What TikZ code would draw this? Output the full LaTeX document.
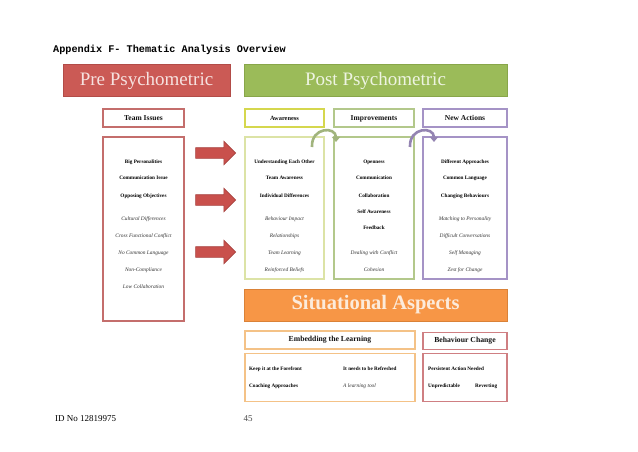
\documentclass[tikz,border=0pt]{standalone}
\usepackage{fontspec}
\setmainfont{Liberation Serif}
\newfontfamily\titlefont{Liberation Mono}
\usetikzlibrary{shapes.arrows,arrows.meta}
\definecolor{prefill}{HTML}{CB5A55}
\definecolor{predraw}{HTML}{B24C48}
\definecolor{pretext}{HTML}{F6E2E0}
\definecolor{postfill}{HTML}{9BBB59}
\definecolor{postdraw}{HTML}{88A64A}
\definecolor{posttext}{HTML}{EEF4E2}
\definecolor{sitfill}{HTML}{F79646}
\definecolor{sitdraw}{HTML}{DA8238}
\definecolor{sittext}{HTML}{FCEBDB}
\definecolor{redline}{HTML}{C46E6C}
\definecolor{yelhead}{HTML}{D5D74E}
\definecolor{yelline}{HTML}{DCE3A6}
\definecolor{grnline}{HTML}{B3C88B}
\definecolor{purline}{HTML}{A593C6}
\definecolor{orgline}{HTML}{F4C287}
\definecolor{behline}{HTML}{CF7F82}
\definecolor{arrowred}{HTML}{C9504C}
\definecolor{arrowdraw}{HTML}{A84340}
\definecolor{txt}{HTML}{111111}
\tikzset{
  bigbox/.style={draw, line width=1pt, inner sep=0pt, font=\fontsize{19}{22}\selectfont},
  framebox/.style={draw, line width=1.2pt, fill=white, inner sep=0pt},
  head/.style={font=\bfseries\fontsize{7.5}{9}\selectfont, text=txt},
  bt/.style={font=\bfseries\fontsize{5.2}{6}\selectfont, text=black, inner sep=0pt},
  it/.style={font=\itshape\fontsize{5.4}{6}\selectfont, text=black!80, inner sep=0pt},
  blockarrow/.style={single arrow, draw=arrowdraw, fill=arrowred, line width=0.6pt,
    minimum height=40pt, minimum width=23pt, inner sep=5pt,
    single arrow head extend=6.5pt, single arrow head indent=0pt, single arrow tip angle=90},
  curvearrow/.style={line width=2.6pt, -{Triangle[length=5pt,width=8pt]}}
}
\begin{document}
\begin{tikzpicture}[x=1pt,y=-1pt]
\useasboundingbox[fill=white] (0,0) rectangle (638,452);

% title
\node[anchor=west, inner sep=0pt, font=\titlefont\bfseries\fontsize{10.2}{12}\selectfont] (title) at (53,50) {Appendix F- Thematic Analysis Overview};

% main banners
\node[bigbox, fill=prefill, draw=predraw, text=pretext, minimum width=167pt, minimum height=32pt] (pre) at (146.5,81) {Pre Psychometric};
\node[bigbox, fill=postfill, draw=postdraw, text=posttext, minimum width=263pt, minimum height=32pt] (post) at (375.5,81) {Post Psychometric};
\node[bigbox, fill=sitfill, draw=sitdraw, text=sittext, minimum width=263pt, minimum height=32pt, font=\bfseries\fontsize{20.5}{24}\selectfont] (sit) at (375.5,305) {Situational Aspects};

% column headers
\node[framebox, draw=redline, minimum width=81pt, minimum height=18pt, head] (teamh) at (143.5,118) {Team Issues};
\node[framebox, draw=yelhead, minimum width=79pt, minimum height=18pt, head, font=\bfseries\fontsize{6.4}{8}\selectfont] (awh) at (284.5,118) {Awareness};
\node[framebox, draw=grnline, minimum width=80pt, minimum height=18pt, head] (imh) at (374,118) {\raisebox{0pt}[\height][0pt]{Improvements}};
\node[framebox, draw=purline, minimum width=84pt, minimum height=18pt, head] (nah) at (465,118) {New Actions};

% column bodies
\node[framebox, draw=redline, minimum width=81pt, minimum height=184pt] (teamb) at (143.5,229) {};
\node[framebox, draw=yelline, minimum width=79pt, minimum height=142pt] (awb) at (284.5,208) {};
\node[framebox, draw=grnline, minimum width=80pt, minimum height=142pt] (imb) at (374,208) {};
\node[framebox, draw=purline, minimum width=84pt, minimum height=142pt] (nab) at (465,208) {};

% team issues text
\node[bt] (t1) at (143.5,162) {Big Personalities};
\node[bt] (t2) at (143.5,178) {Communication Issue};
\node[bt] (t3) at (143.5,196) {Opposing Objectives};
\node[it] (t4) at (143.5,219) {Cultural Differences};
\node[it] (t5) at (143.5,236) {Cross Functional Conflict};
\node[it] (t6) at (143.5,253) {No Common Language};
\node[it] (t7) at (143.5,270) {Non-Compliance};
\node[it] (t8) at (143.5,287) {Low Collaboration};

% awareness text
\node[bt] (a1) at (284.5,162) {Understanding Each Other};
\node[bt] (a2) at (284.5,178) {Team Awareness};
\node[bt] (a3) at (284.5,196) {Individual Differences};
\node[it] (a4) at (284.5,219) {Behaviour Impact};
\node[it] (a5) at (284.5,236) {Relationships};
\node[it] (a6) at (284.5,253) {Team Learning};
\node[it] (a7) at (284.5,270) {Reinforced Beliefs};

% improvements text
\node[bt] (i1) at (374,162) {Openness};
\node[bt] (i2) at (374,178) {Communication};
\node[bt] (i3) at (374,196) {Collaboration};
\node[bt] (i4) at (374,212) {Self Awareness};
\node[bt] (i5) at (374,228) {Feedback};
\node[it] (i6) at (374,253) {Dealing with Conflict};
\node[it] (i7) at (374,270) {Cohesion};

% new actions text
\node[bt] (n1) at (465,162) {Different Approaches};
\node[bt] (n2) at (465,178) {Common Language};
\node[bt] (n3) at (465,196) {Changing Behaviours};
\node[it] (n4) at (465,219) {Matching to Personality};
\node[it] (n5) at (465,236) {Difficult Conversations};
\node[it] (n6) at (465,253) {Self Managing};
\node[it] (n7) at (465,270) {Zest for Change};

% block arrows
\node[blockarrow] (ar1) at (213,153) {};
\node[blockarrow] (ar2) at (213,200) {};
\node[blockarrow] (ar3) at (213,252) {};

% curved arrows between columns
\coordinate (c1s) at (312,147);
\coordinate (c1e) at (336,142);
\coordinate (c2s) at (410,147);
\coordinate (c2e) at (434,142);
\draw[curvearrow, draw=grnline!90!black] (c1s) .. controls (311,127) and (336,126) .. (c1e);
\draw[curvearrow, draw=purline!90!black] (c2s) .. controls (409,127) and (434,126) .. (c2e);

% situational section
\node[framebox, draw=orgline, minimum width=170pt, minimum height=18pt, head, font=\bfseries\fontsize{7.7}{9}\selectfont] (emh) at (330,340) {Embedding the Learning};
\node[framebox, draw=behline, minimum width=84pt, minimum height=17pt, head, font=\bfseries\fontsize{7.7}{9}\selectfont] (beh) at (465,341) {Behaviour Change};
\node[framebox, draw=orgline, minimum width=170pt, minimum height=48pt] (emb) at (330,377.5) {};
\node[framebox, draw=behline, minimum width=84pt, minimum height=48pt] (beb) at (465,377.5) {};

\node[bt, anchor=west] (e1) at (249,369) {Keep it at the Forefront};
\node[bt, anchor=west] (e2) at (249,386) {Coaching Approaches};
\node[bt, anchor=west] (e3) at (343,369) {It needs to be Refreshed};
\node[it, anchor=west] (e4) at (343,386) {A learning tool};
\node[bt, anchor=west] (b1) at (428,369) {Persistent Action Needed};
\node[bt, anchor=west] (b2) at (428,386) {Unpredictable};
\node[bt, anchor=west] (b3) at (475,386) {Reverting};

% footer
\node[anchor=west, inner sep=0pt, font=\fontsize{9}{10}\selectfont] (idno) at (55,419) {ID No 12819975};
\node[inner sep=0pt, font=\fontsize{9}{10}\selectfont, text=black!70] (page) at (248,419) {45};
\end{tikzpicture}
\end{document}
